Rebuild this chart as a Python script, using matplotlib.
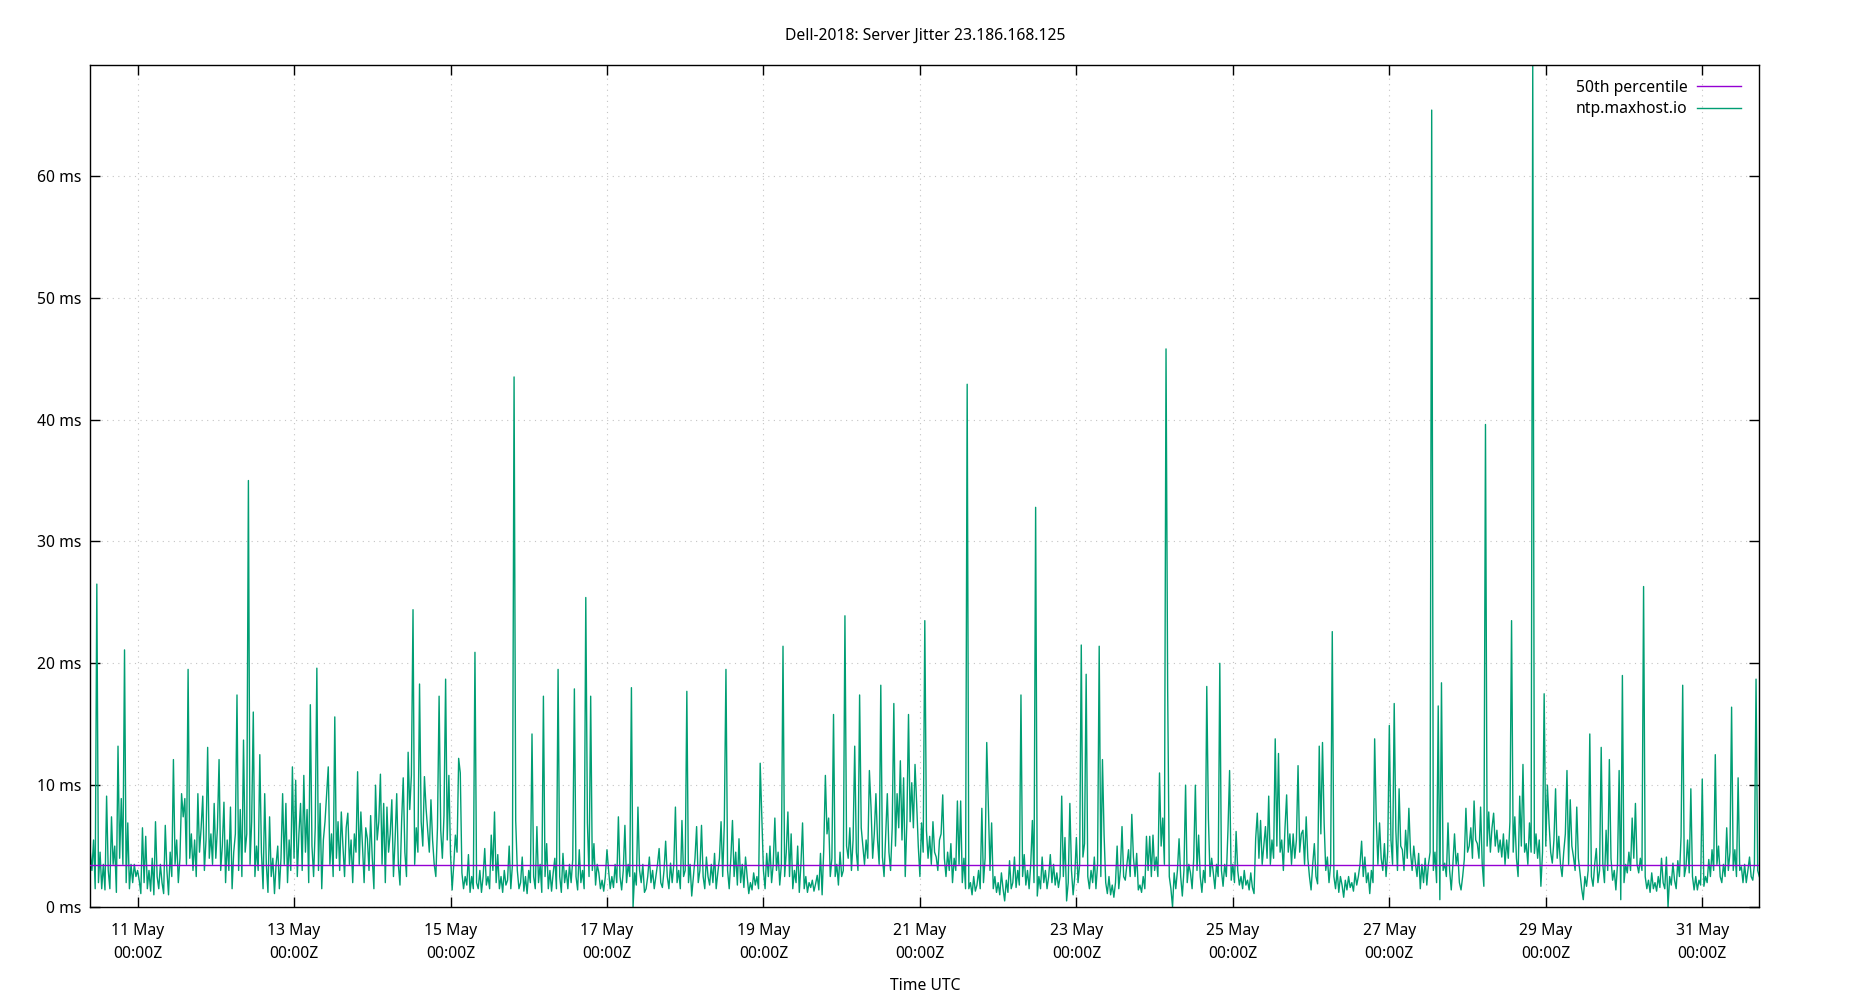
import datetime as dt
import numpy as np
import matplotlib
matplotlib.use("Agg")
import matplotlib.pyplot as plt
from matplotlib.lines import Line2D

plt.rcParams['font.family'] = ['Noto Sans', 'DejaVu Sans']

title = "Dell-2018: Server Jitter 23.186.168.125"
series_name = "ntp.maxhost.io"
pct_name = "50th percentile"
x_label = "Time UTC"
start = dt.datetime(2024, 5, 10, 9, 30)
step_minutes = 30
p50 = 3.42
y_max = 69.1
y_ticks = [0, 10, 20, 30, 40, 50, 60]
tick_days = [11, 13, 15, 17, 19, 21, 23, 25, 27, 29, 31]

# jitter values (ms), one list per day, 30-minute samples
d10 = [4.5, 3.0, 5.5, 1.5, 26.5, 2.0, 4.5, 1.5, 3.5, 1.4, 9.1, 3.0, 1.5, 7.4, 3.5, 5.0, 1.2, 13.2, 4.0, 8.9,
       3.5, 21.1, 2.0, 6.9, 1.5, 3.5, 2.0, 3.5, 2.5]
d11 = [3.0, 2.2, 1.1, 6.5, 2.0, 5.8, 1.5, 3.0, 1.3, 4.0, 1.0, 7.0, 2.5, 1.5, 3.5, 2.0, 1.1, 6.7, 3.0, 1.0,
       4.5, 2.5, 12.1, 3.5, 5.5, 2.0, 4.0, 9.3, 7.4, 8.9, 3.5, 19.5, 4.0, 6.0, 3.0, 5.5, 2.5, 9.3, 4.5, 6.5,
       9.1, 3.0, 5.5, 13.1, 4.0, 6.0, 3.5, 8.5]
d12 = [4.0, 6.5, 12.1, 3.0, 5.0, 8.6, 2.0, 5.5, 3.0, 8.2, 1.5, 4.5, 6.0, 17.4, 3.0, 8.0, 2.5, 13.7, 4.5, 6.0,
       35.0, 3.5, 7.0, 16.0, 2.5, 5.0, 3.0, 12.5, 4.5, 1.5, 9.3, 3.5, 1.2, 7.4, 2.5, 4.0, 1.1, 3.5, 5.0, 1.5,
       4.0, 9.3, 3.5, 8.5, 2.0, 5.5, 3.0, 11.5]
d13 = [4.0, 10.4, 2.5, 6.0, 8.5, 3.0, 10.8, 4.5, 8.0, 2.0, 16.6, 5.0, 2.5, 6.5, 19.6, 3.0, 8.5, 1.5, 5.5, 7.0,
       9.2, 11.5, 3.5, 6.0, 2.5, 15.6, 4.0, 7.0, 3.0, 7.8, 5.0, 2.5, 6.5, 7.7, 3.5, 5.5, 2.0, 6.0, 4.5, 11.1,
       3.5, 7.8, 5.0, 2.0, 6.5, 5.6, 3.0, 7.5]
d14 = [4.0, 1.5, 10.0, 5.5, 7.0, 10.9, 3.5, 8.5, 2.0, 8.2, 4.5, 6.0, 8.8, 2.5, 5.5, 9.3, 3.5, 1.8, 7.0, 10.6,
       4.5, 2.5, 12.7, 8.0, 10.8, 24.4, 3.5, 6.5, 4.5, 18.3, 7.0, 5.0, 10.7, 8.1, 6.3, 4.5, 8.8, 5.5, 3.5, 2.5,
       6.5, 17.3, 6.3, 4.0, 7.5, 18.7, 5.5, 10.8]
d15 = [4.4, 1.4, 3.5, 5.9, 4.5, 12.2, 11.0, 2.8, 1.5, 2.5, 1.8, 4.3, 1.2, 2.5, 1.5, 20.9, 2.0, 1.5, 3.0, 1.2,
       2.5, 4.8, 1.8, 2.5, 1.5, 5.9, 3.0, 7.8, 2.0, 4.3, 1.5, 2.5, 1.2, 3.0, 1.8, 2.2, 5.0, 1.5, 3.5, 43.5,
       7.1, 3.0, 1.5, 2.0, 4.1, 1.3, 2.5, 1.1]
d16 = [3.0, 2.0, 14.2, 2.5, 1.5, 6.6, 2.0, 3.5, 1.2, 17.3, 2.5, 5.2, 1.5, 3.0, 1.3, 2.8, 4.0, 1.5, 19.5, 2.5,
       1.2, 4.4, 2.0, 3.0, 1.5, 3.5, 2.0, 3.9, 17.9, 2.5, 1.4, 4.7, 2.0, 3.0, 1.5, 25.4, 6.9, 2.5, 17.3, 3.0,
       5.2, 1.8, 3.5, 2.8, 1.5, 2.2, 1.3, 2.5]
d17 = [4.7, 3.0, 1.5, 2.5, 1.6, 3.5, 2.0, 7.4, 2.5, 1.4, 3.0, 6.7, 2.0, 3.5, 2.5, 18.0, 0.0, 2.8, 1.8, 8.2,
       3.0, 2.0, 3.5, 1.2, 1.5, 2.5, 4.1, 2.0, 3.0, 1.5, 2.5, 3.5, 4.8, 2.0, 1.6, 3.0, 5.4, 2.5, 1.5, 3.6,
       2.0, 3.5, 8.2, 2.0, 3.0, 1.5, 7.1, 2.5]
d18 = [3.0, 17.7, 2.0, 3.5, 0.9, 2.5, 4.0, 6.6, 2.0, 3.0, 6.7, 2.5, 1.5, 4.1, 2.5, 1.8, 3.5, 2.0, 4.4, 1.5,
       2.8, 4.0, 7.0, 2.5, 6.9, 19.5, 3.0, 1.5, 4.0, 7.1, 2.5, 4.5, 1.8, 5.6, 2.0, 3.5, 1.6, 4.1, 2.5, 1.1,
       2.0, 1.4, 2.8, 1.8, 2.5, 1.5, 11.8, 7.4]
d19 = [3.0, 1.5, 4.4, 2.5, 5.0, 2.0, 3.5, 7.3, 3.0, 4.5, 1.8, 3.5, 21.4, 2.5, 4.5, 7.8, 2.5, 6.0, 1.5, 3.0,
       2.0, 5.0, 1.2, 3.5, 6.9, 1.5, 2.5, 1.2, 2.0, 1.6, 2.2, 1.3, 1.9, 2.6, 1.4, 4.4, 1.0, 4.7, 10.8, 6.0,
       7.3, 2.5, 4.0, 15.8, 2.5, 3.5, 1.8, 4.5]
d20 = [2.5, 3.0, 23.9, 5.0, 4.0, 6.5, 3.0, 5.5, 13.2, 4.5, 3.0, 17.4, 6.5, 5.0, 3.5, 5.5, 4.0, 11.2, 8.2, 4.0,
       6.0, 9.3, 5.5, 3.5, 18.2, 4.1, 2.5, 6.0, 9.3, 4.5, 3.0, 6.5, 16.7, 5.0, 9.3, 6.5, 12.0, 5.5, 10.6, 2.5,
       7.0, 15.8, 7.0, 10.2, 6.5, 11.7, 8.5, 5.0]
d21 = [2.5, 6.9, 4.5, 23.5, 6.3, 4.0, 5.8, 3.5, 7.0, 4.5, 4.1, 3.0, 5.5, 6.0, 9.2, 4.0, 2.5, 4.5, 3.0, 5.2,
       2.0, 4.0, 3.0, 8.7, 3.5, 8.7, 2.0, 4.0, 1.5, 42.9, 1.5, 2.0, 1.0, 2.5, 1.3, 1.8, 3.0, 1.5, 8.1, 2.0,
       4.0, 13.5, 8.2, 3.0, 6.9, 1.5, 2.5, 1.2]
d22 = [2.0, 1.0, 2.8, 1.5, 0.5, 2.2, 1.2, 3.8, 1.5, 2.0, 4.1, 1.6, 3.0, 1.8, 17.4, 2.5, 4.3, 1.8, 3.0, 1.5,
       3.5, 7.1, 2.0, 32.8, 0.9, 2.5, 1.5, 4.1, 2.0, 3.0, 1.5, 2.5, 4.3, 2.0, 3.5, 1.8, 2.8, 1.6, 2.5, 9.1,
       2.5, 5.7, 0.5, 2.0, 8.5, 3.0, 1.0, 2.5]
d23 = [5.7, 2.0, 3.5, 21.5, 4.1, 5.2, 19.1, 2.5, 1.5, 3.0, 2.0, 4.1, 1.5, 3.5, 21.4, 2.5, 12.1, 5.9, 2.0, 1.1,
       2.5, 1.0, 1.8, 0.8, 2.0, 5.0, 1.5, 3.0, 6.6, 2.5, 2.2, 3.5, 4.7, 2.5, 7.6, 4.1, 2.5, 4.4, 1.4, 1.8,
       1.2, 2.5, 1.5, 5.8, 3.0, 5.8, 2.5, 5.9]
d24 = [3.0, 4.1, 2.5, 11.0, 5.0, 7.3, 3.5, 45.8, 17.9, 2.5, 1.5, 0.0, 2.8, 1.5, 3.0, 5.6, 2.5, 0.9, 3.0, 10.0,
       2.0, 3.5, 2.8, 1.5, 4.0, 10.0, 3.0, 5.9, 2.5, 1.2, 3.0, 2.0, 18.1, 7.3, 2.5, 4.0, 2.8, 1.5, 3.5, 2.5,
       20.0, 3.0, 1.7, 3.5, 2.5, 6.3, 11.2, 2.2]
d25 = [3.5, 2.0, 6.2, 3.0, 1.8, 2.5, 1.5, 3.0, 1.8, 2.2, 1.4, 2.8, 1.6, 1.1, 5.6, 7.7, 4.0, 7.1, 3.5, 5.0,
       6.6, 4.0, 9.1, 3.5, 5.5, 4.0, 13.8, 5.0, 12.6, 4.5, 5.5, 3.0, 6.5, 9.2, 4.5, 6.0, 3.5, 6.0, 4.0, 5.5,
       11.6, 4.5, 6.0, 6.3, 3.5, 7.4, 4.0, 2.5]
d26 = [1.4, 3.5, 5.2, 2.5, 1.9, 13.2, 6.0, 13.5, 6.9, 3.0, 4.1, 2.0, 3.5, 22.6, 2.5, 1.5, 3.0, 1.2, 2.5, 1.8,
       0.8, 2.2, 1.4, 2.5, 1.6, 2.0, 1.3, 2.8, 1.8, 2.5, 3.5, 5.4, 2.5, 4.1, 2.0, 2.8, 1.1, 3.0, 2.0, 13.8,
       7.1, 3.5, 6.9, 4.0, 3.0, 5.2, 2.5, 4.5]
d27 = [14.9, 5.5, 3.5, 16.7, 6.3, 3.0, 9.7, 5.0, 4.7, 3.0, 6.3, 4.0, 8.1, 4.5, 3.0, 5.0, 3.6, 2.5, 4.4, 1.5,
       3.5, 2.0, 4.0, 1.8, 3.5, 4.5, 65.4, 3.0, 4.5, 2.0, 16.5, 0.6, 18.4, 3.0, 3.6, 2.5, 6.9, 3.0, 1.4, 3.5,
       6.0, 3.5, 4.4, 2.0, 1.4, 2.5, 3.9, 8.1]
d28 = [4.5, 5.0, 6.5, 4.0, 8.7, 5.5, 5.2, 4.0, 8.2, 3.5, 1.7, 39.6, 5.0, 7.8, 4.5, 6.5, 7.7, 5.0, 6.3, 4.5,
       5.5, 4.1, 6.0, 3.5, 5.5, 4.0, 7.0, 23.5, 4.5, 7.4, 4.0, 2.5, 9.1, 5.0, 11.7, 4.5, 5.2, 3.5, 6.9, 4.5,
       69.0, 4.4, 6.0, 4.0, 5.5, 1.7, 4.5, 17.5]
d29 = [5.0, 10.0, 6.9, 4.5, 3.6, 5.5, 9.7, 4.0, 5.8, 3.5, 2.5, 4.5, 6.0, 11.2, 3.5, 8.8, 5.0, 4.1, 3.0, 8.2,
       4.0, 2.8, 1.5, 0.6, 2.5, 1.7, 3.0, 14.2, 2.5, 1.7, 3.5, 4.8, 2.0, 3.0, 13.1, 3.5, 2.0, 6.3, 3.0, 12.1,
       4.0, 2.2, 3.0, 1.4, 3.5, 11.2, 0.6, 19.0]
d30 = [2.0, 3.5, 2.8, 4.5, 3.0, 7.3, 4.0, 8.5, 3.5, 2.8, 4.0, 3.0, 26.3, 2.5, 1.5, 2.2, 1.2, 2.8, 1.5, 2.0,
       1.3, 2.5, 1.6, 4.0, 2.0, 1.5, 4.1, 0.0, 2.5, 1.8, 3.6, 2.2, 1.5, 3.8, 2.5, 5.8, 18.2, 2.5, 3.3, 5.5,
       2.8, 9.7, 2.5, 1.4, 2.5, 1.4, 2.2, 1.8]
d31 = [10.5, 1.7, 2.5, 2.0, 3.9, 2.5, 4.7, 3.0, 12.5, 3.5, 5.0, 2.5, 2.0, 3.5, 2.5, 6.5, 3.0, 4.5, 16.4, 3.0,
       4.7, 2.5, 10.6, 3.0, 3.3, 2.0, 3.5, 2.0, 3.0, 4.1, 2.5, 2.2, 3.5, 18.7, 3.0, 2.5]

days = [d10, d11, d12, d13, d14, d15, d16, d17, d18, d19, d20, d21, d22, d23, d24, d25, d26, d27, d28, d29,
        d30, d31]
values = np.array([v for day in days for v in day])
times = [start + dt.timedelta(minutes=step_minutes * i) for i in range(len(values))]

GREEN = "#009e73"
PURPLE = "#9400d3"
FS = 11.3

fig = plt.figure(figsize=(18.5, 10), dpi=100)
ax = fig.add_axes([90.3 / 1850, 1 - 907 / 1000, (1759.3 - 90.3) / 1850, (907 - 65) / 1000])

ax.plot(times, values, color=GREEN, lw=1.0, zorder=2)
ax.axhline(p50, color=PURPLE, lw=1.0, zorder=3)

ax.set_xlim(times[0], times[-1])
ax.set_ylim(0, y_max)

ax.set_yticks(y_ticks)
ax.set_yticklabels([f"{v} ms" for v in y_ticks])
ax.set_xticks([dt.datetime(2024, 5, d) for d in tick_days])
ax.set_xticklabels([f"{d} May\n00:00Z" for d in tick_days], linespacing=1.55)

ax.tick_params(direction="in", length=7, width=1, top=True, right=True, labelsize=FS, colors="black")
ax.tick_params(axis="x", pad=11.5)
ax.tick_params(axis="y", pad=6.5)
ax.grid(True, color="#c4c4c4", linestyle=(0, (1, 4)), lw=0.8, zorder=0)
for s in ax.spines.values():
    s.set_linewidth(1.0)
    s.set_color("black")

handles = [Line2D([], [], color=PURPLE, lw=1.0), Line2D([], [], color=GREEN, lw=1.0)]
ax.legend(handles, [pct_name, series_name], loc="upper right", frameon=False, markerfirst=False,
          handlelength=2.8, handletextpad=0.64, labelspacing=0.38, borderaxespad=0, borderpad=0,
          bbox_to_anchor=(1 - 18 / 1669, 1 - 14.5 / 842), fontsize=FS)

fig.text(0.5, 1 - 35.5 / 1000, title, ha="center", va="center", fontsize=FS)
fig.text(0.5, 1 - 986.5 / 1000, x_label, ha="center", va="center", fontsize=FS)

fig.savefig("out.png", dpi=100)
